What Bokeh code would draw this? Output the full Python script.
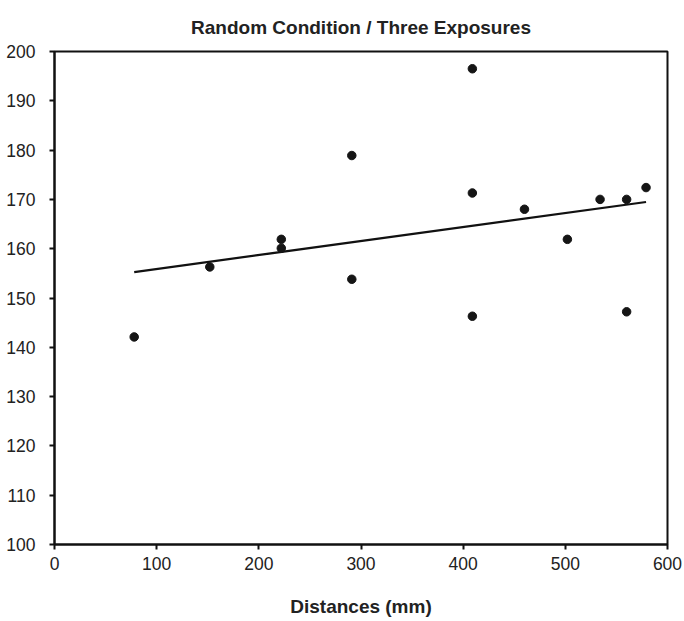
import numpy as np
from bokeh.plotting import figure
from bokeh.models import Range1d, FixedTicker, ColumnDataSource
from bokeh.embed import file_html
from bokeh.resources import INLINE

# Data
distances = [78, 152, 222, 222, 291, 291, 409, 409, 409, 460, 502, 534, 560, 560, 579]
values = [142.1, 156.3, 161.9, 160.1, 178.9, 153.8, 196.5, 171.3, 146.3, 168.0, 161.9, 170.0, 170.0, 147.2, 172.4]
x_ticks = [0, 100, 200, 300, 400, 500, 600]
y_ticks = [100, 110, 120, 130, 140, 150, 160, 170, 180, 190, 200]

# Least-squares trend line over the data range
slope, intercept = np.polyfit(distances, values, 1)
fit_x = [min(distances), max(distances)]
fit_y = [slope * v + intercept for v in fit_x]

FONT = "Liberation Sans"
TXT = "#222222"

p = figure(width=684, height=619, output_backend="svg", toolbar_location=None,
           x_range=Range1d(0, 600), y_range=Range1d(100, 200),
           title="Random Condition / Three Exposures")
p.min_border_left = 54
p.min_border_right = 17
p.min_border_top = 51
p.min_border_bottom = 74

p.title.align = "center"
p.title.text_font = FONT
p.title.text_font_size = "19px"
p.title.text_font_style = "bold"
p.title.text_color = TXT
p.title.standoff = 28

p.xgrid.visible = False
p.ygrid.visible = False
p.outline_line_color = "#111111"
p.outline_line_width = 2
p.background_fill_color = "white"
p.border_fill_color = "white"

for ax in (p.xaxis[0], p.yaxis[0]):
    ax.axis_line_color = "#111111"
    ax.axis_line_width = 2
    ax.major_tick_line_color = "#111111"
    ax.major_tick_line_width = 2
    ax.major_tick_out = 5
    ax.major_tick_in = 0
    ax.minor_tick_line_color = None
    ax.major_label_text_font = FONT
    ax.major_label_text_font_size = "17.5px"
    ax.major_label_text_color = TXT

p.xaxis.ticker = FixedTicker(ticks=x_ticks)
p.yaxis.ticker = FixedTicker(ticks=y_ticks)
p.xaxis.major_label_standoff = 7
p.yaxis.major_label_standoff = 14

p.xaxis.axis_label = "Distances (mm)"
p.xaxis.axis_label_text_font = FONT
p.xaxis.axis_label_text_font_size = "19px"
p.xaxis.axis_label_text_font_style = "bold"
p.xaxis.axis_label_text_color = TXT
p.xaxis.axis_label_standoff = 23

src = ColumnDataSource(dict(x=distances, y=values))
p.line(fit_x, fit_y, line_color="#111111", line_width=2.2)
p.scatter("x", "y", source=src, size=8.5, fill_color="#151515", line_color="#151515")

open("out.html", "w").write(file_html(p, INLINE))
